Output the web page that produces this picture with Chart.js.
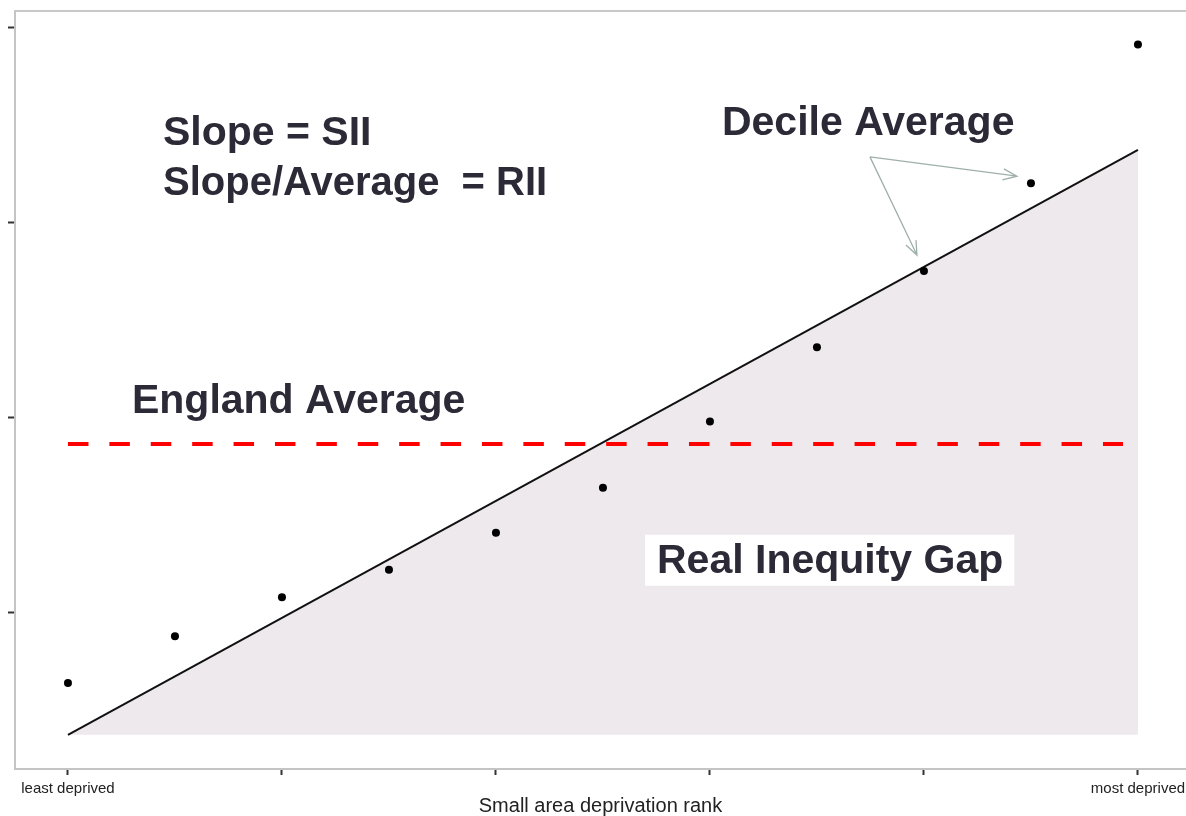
<!DOCTYPE html>
<html>
<head>
<meta charset="utf-8">
<script src="https://cdn.jsdelivr.net/npm/chart.js@4.4.1/dist/chart.umd.min.js"></script>
<style>
  html, body { margin: 0; padding: 0; background: #fff; overflow: hidden; }
</style>
</head>
<body>
<canvas id="siiChart" width="1186" height="816"></canvas>
<script>
// deprivation rank of each decile group, 0 = least deprived, 10 = most deprived
const ranks = [0, 1, 2, 3, 4, 5, 6, 7, 8, 9, 10];
const decileAverages = [0.64, 0.88, 1.08, 1.22, 1.41, 1.64, 1.98, 2.36, 2.75, 3.20, 3.91];

// fitted slope (SII) end points
const slopeRanks = [0, 10];
const slopeValues = [0.375, 3.371];
const gapBase = 0.375;

// England average reference line
const averageRanks = [0, 9.86];
const englandAverage = [1.865, 1.865];

const xTicks = [0, 2, 4, 6, 8, 10];
const xTickLabels = ["least deprived", "", "", "", "", "most deprived"];
const yTicks = [1, 2, 3, 4];

const TEXT_COLOR = "#2b2a36";
const ARROW_COLOR = "#9fb0aa";
const BIG_FONT = "bold 41px 'Liberation Sans', Arial, sans-serif";

function toPoints(xs, ys) {
    return xs.map((x, i) => ({ x: x, y: ys[i] }));
}

function drawArrow(ctx, x1, y1, x2, y2) {
    const ang = Math.atan2(y2 - y1, x2 - x1);
    const head = 15, spread = 0.38;
    ctx.beginPath();
    ctx.moveTo(x1, y1);
    ctx.lineTo(x2, y2);
    ctx.moveTo(x2 - head * Math.cos(ang - spread), y2 - head * Math.sin(ang - spread));
    ctx.lineTo(x2, y2);
    ctx.lineTo(x2 - head * Math.cos(ang + spread), y2 - head * Math.sin(ang + spread));
    ctx.stroke();
}

// top frame line and text notes
const notesPlugin = {
    id: "notes",
    afterDatasetsDraw(chart) {
        const ctx = chart.ctx;
        const xs = chart.scales.x, ys = chart.scales.y;
        const area = chart.chartArea;
        const px = v => xs.getPixelForValue(v);
        const py = v => ys.getPixelForValue(v);

        ctx.save();
        ctx.strokeStyle = "#c8c8c8";
        ctx.lineWidth = 2;
        ctx.beginPath();
        ctx.moveTo(area.left, area.top);
        ctx.lineTo(area.right, area.top);
        ctx.stroke();

        ctx.font = BIG_FONT;
        ctx.fillStyle = TEXT_COLOR;
        ctx.textBaseline = "alphabetic";
        ctx.textAlign = "left";
        ctx.fillText("Slope = SII", px(0.888), py(3.396));
        ctx.font = "bold 40px 'Liberation Sans', Arial, sans-serif";
        ctx.fillText("Slope/Average  = RII", px(0.888), py(3.140));
        ctx.font = BIG_FONT;
        ctx.fillText("England Average", px(0.598), py(2.024));
        ctx.fillText("Decile Average", px(6.112), py(3.448));

        // label sitting in the gap area, on a white box
        const gx = px(5.505), gy = py(1.205);
        const gw = ctx.measureText("Real Inequity Gap").width;
        ctx.fillStyle = "#ffffff";
        ctx.fillRect(gx - 12, gy - 38, gw + 23, 51);
        ctx.fillStyle = TEXT_COLOR;
        ctx.fillText("Real Inequity Gap", gx, gy);

        // arrows from "Decile Average" to two of the dots
        ctx.strokeStyle = ARROW_COLOR;
        ctx.lineWidth = 1.3;
        const sx = px(7.495), sy = py(3.335);
        drawArrow(ctx, sx, sy, px(ranks[9]) - 14, py(decileAverages[9]) - 7);
        drawArrow(ctx, sx, sy, px(ranks[8]) - 7, py(decileAverages[8]) - 16);
        ctx.restore();
    }
};

const ctx = document.getElementById("siiChart").getContext("2d");
new Chart(ctx, {
    type: "line",
    data: {
        datasets: [
            {
                label: "Decile Average",
                data: toPoints(ranks, decileAverages),
                showLine: false,
                pointRadius: 4,
                pointBackgroundColor: "#000",
                pointBorderWidth: 0
            },
            {
                label: "England Average",
                data: toPoints(averageRanks, englandAverage),
                borderColor: "#ff0000",
                borderWidth: 4,
                borderDash: [20.5, 20.9],
                borderCapStyle: "butt",
                pointRadius: 0,
                fill: false
            },
            {
                label: "Slope",
                data: toPoints(slopeRanks, slopeValues),
                borderColor: "#111",
                borderWidth: 2,
                pointRadius: 0,
                fill: { value: gapBase },
                backgroundColor: "rgb(238,233,237)"
            }
        ]
    },
    options: {
        responsive: false,
        animation: false,
        layout: { autoPadding: false, padding: { top: 11, left: 0, right: 0, bottom: 0 } },
        plugins: {
            legend: { display: false },
            tooltip: { enabled: false }
        },
        scales: {
            x: {
                type: "linear",
                min: -0.495,
                max: 10.449,
                afterBuildTicks: axis => { axis.ticks = xTicks.map(v => ({ value: v })); },
                afterFit: axis => {
                    axis.height = 47;
                    axis.paddingLeft = 0;
                    axis.paddingRight = 0;
                },
                ticks: {
                    autoSkip: false,
                    maxRotation: 0,
                    padding: 5,
                    color: "#222",
                    font: { family: "'Liberation Sans', Arial, sans-serif", size: 15 },
                    callback: (v, i) => xTickLabels[i]
                },
                grid: { drawOnChartArea: false, tickLength: 6, tickColor: "#333", tickWidth: 2 },
                border: { color: "#c4c4c4", width: 2 },
                title: {
                    display: true,
                    text: "Small area deprivation rank",
                    color: "#222",
                    padding: { top: 0, bottom: 0 },
                    font: { family: "'Liberation Sans', Arial, sans-serif", size: 20, lineHeight: 1 }
                }
            },
            y: {
                min: 0.2,
                max: 4.082,
                afterBuildTicks: axis => { axis.ticks = yTicks.map(v => ({ value: v })); },
                afterFit: axis => { axis.width = 15; },
                ticks: { display: false },
                grid: { drawOnChartArea: false, tickLength: 7, tickColor: "#333", tickWidth: 2 },
                border: { color: "#c4c4c4", width: 2 }
            }
        }
    },
    plugins: [notesPlugin]
});
</script>
</body>
</html>
